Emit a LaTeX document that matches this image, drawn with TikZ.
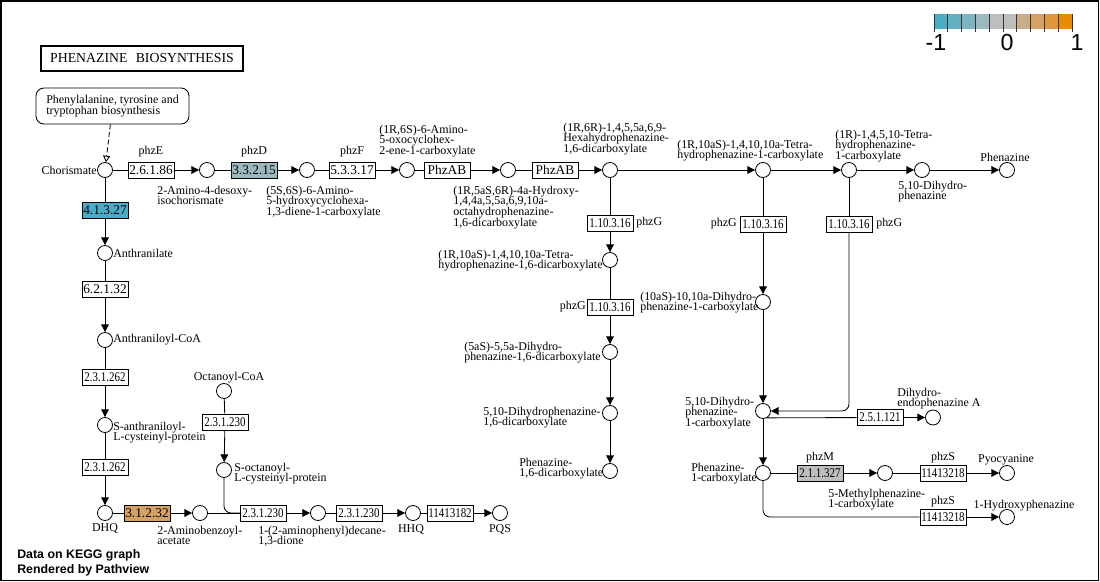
\documentclass[tikz,border=0pt]{standalone}
\usepackage{fontspec}
\setmainfont{Liberation Serif}
\setsansfont{Liberation Sans}
\usepackage{graphicx}
\usetikzlibrary{arrows.meta}

% expression colours (blue = -1, grey = 0, orange = +1)
\definecolor{lg1}{HTML}{4AACC6}
\definecolor{lg2}{HTML}{63B0C3}
\definecolor{lg3}{HTML}{7DB4C1}
\definecolor{lg4}{HTML}{9DB9C0}
\definecolor{lg5}{HTML}{BEBEBE}
\definecolor{lg6}{HTML}{BEBEBE}
\definecolor{lg7}{HTML}{C9AD8A}
\definecolor{lg8}{HTML}{D5A263}
\definecolor{lg9}{HTML}{E0973A}
\definecolor{lg10}{HTML}{E88B00}

\newcommand{\nar}[1]{\scalebox{0.82}[1]{#1}}
\lineskiplimit=-100pt

\begin{document}
\begin{tikzpicture}[
    x=0.025cm, y=-0.025cm,
    >={Triangle[length=5.5pt,width=5.5pt]},
    font=\fontsize{8.5}{7.6}\selectfont,
    % compounds, enzymes, labels and connectors
    cpd/.style={circle, draw, line width=0.6pt, fill=white, minimum size=0.375cm, inner sep=0pt},
    enz/.style={draw, line width=0.6pt, fill=white, minimum width=1.15cm, minimum height=0.4cm, inner sep=0pt, font=\fontsize{9.5}{9.5}\selectfont},
    lbl/.style={inner sep=0pt, align=left, anchor=north west},
    gene/.style={inner sep=0pt},
    link/.style={line width=0.6pt},
    flow/.style={->, line width=0.6pt}
  ]

  \useasboundingbox (0,0) rectangle (1100,582);
  \draw[line width=1pt] (1,1) rectangle (1098.5,580.5);

  % ---------------------------------------------------------
  % TITLE, LEGEND, NOTE
  % ---------------------------------------------------------
  \node[draw, line width=1.4pt, minimum width=5.05cm, minimum height=0.625cm, font=\fontsize{9.8}{10}\selectfont] (title) at (142,58.5) {PHENAZINE\hspace{0.6em}BIOSYNTHESIS};

  \foreach \col [count=\i from 0] in {lg1,lg2,lg3,lg4,lg5,lg6,lg7,lg8,lg9,lg10}
    \fill[\col] (934+\i*13.8,14) rectangle ++(13.8,15);
  \foreach \i in {0,...,10}
    \draw[line width=0.6pt, black!80] (934+\i*13.8,14) -- ++(0,18);
  \node[font={\fontsize{16.5}{18}\sffamily}] (leg_lo) at (936,43) {-1};
  \node[font={\fontsize{16.5}{18}\sffamily}] (leg_mid) at (1007,43) {0};
  \node[font={\fontsize{16.5}{18}\sffamily}] (leg_hi) at (1077,43) {1};

  \node[anchor=west, inner sep=0pt, font={\fontsize{8.8}{10}\sffamily\bfseries}] (note1) at (17,555) {Data on KEGG graph};
  \node[anchor=west, inner sep=0pt, font={\fontsize{8.8}{10}\sffamily\bfseries}] (note2) at (17,570) {Rendered by Pathview};

  % ---------------------------------------------------------
  % TOP ROW (Y = 170)
  % ---------------------------------------------------------
  \node[draw, rounded corners=0.2cm, line width=0.6pt, minimum width=3.825cm, minimum height=0.9cm, align=left, inner sep=0pt] (b_phe) at (112.5,106) {Phenylalanine, tyrosine and\\tryptophan biosynthesis};

  \node[cpd] (c_chor) at (105,170) {};
  \node[cpd] (c_adic) at (207,170) {};
  \node[cpd] (c_ahcd) at (307,170) {};
  \node[cpd] (c_aocc) at (407,170) {};
  \node[cpd] (c_hocd) at (508,170) {};
  \node[cpd] (c_hhpd) at (610,170) {};
  \node[cpd] (c_thpc) at (763,170) {};
  \node[cpd] (c_ttpc) at (849,170) {};
  \node[cpd] (c_dhp) at (922,170) {};
  \node[cpd] (c_phz) at (1007,170) {};

  \node[enz] (e_26186) at (151,170) {2.6.1.86};
  \node[enz, fill=lg4] (e_33215) at (254,170) {3.3.2.15};
  \node[enz] (e_53317) at (352,170) {5.3.3.17};
  \node[enz] (e_phzab1) at (447,170) {PhzAB};
  \node[enz] (e_phzab2) at (555,170) {PhzAB};

  \node[gene] (g_phze) at (151,152) {phzE};
  \node[gene] (g_phzd) at (254,152) {phzD};
  \node[gene] (g_phzf) at (352,152) {phzF};

  \node[anchor=east, inner sep=0pt] (l_chor) at (97,170) {Chorismate};
  \node[lbl] (l_adic) at (157,185.5) {2-Amino-4-desoxy-\\isochorismate};
  \node[lbl] (l_ahcd) at (266,185.5) {(5S,6S)-6-Amino-\\5-hydroxycyclohexa-\\1,3-diene-1-carboxylate};
  \node[lbl] (l_aocc) at (379,124.5) {(1R,6S)-6-Amino-\\5-oxocyclohex-\\2-ene-1-carboxylate};
  \node[lbl] (l_hocd) at (453,185.5) {(1R,5aS,6R)-4a-Hydroxy-\\1,4,4a,5,5a,6,9,10a-\\octahydrophenazine-\\1,6-dicarboxylate};
  \node[lbl] (l_hhpd) at (563,122.5) {(1R,6R)-1,4,5,5a,6,9-\\Hexahydrophenazine-\\1,6-dicarboxylate};
  \node[lbl] (l_thpc) at (677,139.5) {(1R,10aS)-1,4,10,10a-Tetra-\\hydrophenazine-1-carboxylate};
  \node[lbl] (l_ttpc) at (835,129.5) {(1R)-1,4,5,10-Tetra-\\hydrophenazine-\\1-carboxylate};
  \node[lbl] (l_dhp) at (898,180.5) {5,10-Dihydro-\\phenazine};
  \node[inner sep=0pt] (l_phz) at (1005,157) {Phenazine};

  \draw[dashed, dash pattern=on 3.5pt off 2pt, line width=0.6pt, -{Triangle[open,length=4.5pt,width=5pt]}] (b_phe) -- (c_chor);
  \draw[link] (c_chor) -- (e_26186);
  \draw[flow] (e_26186) -- (c_adic);
  \draw[link] (c_adic) -- (e_33215);
  \draw[flow] (e_33215) -- (c_ahcd);
  \draw[link] (c_ahcd) -- (e_53317);
  \draw[flow] (e_53317) -- (c_aocc);
  \draw[link] (c_aocc) -- (e_phzab1);
  \draw[flow] (e_phzab1) -- (c_hocd);
  \draw[link] (c_hocd) -- (e_phzab2);
  \draw[flow] (e_phzab2) -- (c_hhpd);
  \draw[flow] (c_hhpd) -- (c_thpc);
  \draw[flow] (c_thpc) -- (c_ttpc);
  \draw[flow] (c_ttpc) -- (c_dhp);
  \draw[flow] (c_dhp) -- (c_phz);

  % ---------------------------------------------------------
  % LEFT COLUMN AND PQS BRANCH (X = 105, Y = 513)
  % ---------------------------------------------------------
  \node[cpd] (c_anth) at (105,253) {};
  \node[cpd] (c_acoa) at (105,340) {};
  \node[cpd] (c_sac) at (105,425) {};
  \node[cpd] (c_dhq) at (105,513) {};
  \node[cpd] (c_aba) at (200,513) {};
  \node[cpd] (c_octa) at (224,391) {};
  \node[cpd] (c_soc) at (224,470) {};
  \node[cpd] (c_apd) at (318,513) {};
  \node[cpd] (c_hhq) at (413,513) {};
  \node[cpd] (c_pqs) at (500,513) {};

  \node[enz, fill=lg1] (e_41327) at (105,210) {4.1.3.27};
  \node[enz] (e_62132) at (105,289) {6.2.1.32};
  \node[enz] (e_231262a) at (105,377) {\nar{2.3.1.262}};
  \node[enz] (e_231262b) at (105,467) {\nar{2.3.1.262}};
  \node[enz, fill=lg8] (e_31232) at (147,513) {3.1.2.32};
  \node[enz] (e_231230a) at (225,422) {\nar{2.3.1.230}};
  \node[enz] (e_231230b) at (263,513) {\nar{2.3.1.230}};
  \node[enz] (e_231230c) at (359,513) {\nar{2.3.1.230}};
  \node[enz] (e_11413182) at (450,513) {\nar{11413182}};

  \node[anchor=west, inner sep=0pt] (l_anth) at (113,253) {Anthranilate};
  \node[anchor=west, inner sep=0pt] (l_acoa) at (113,340) {Anthraniloyl-CoA};
  \node[lbl] (l_sac) at (113,421.5) {S-anthraniloyl-\\L-cysteinyl-protein};
  \node[inner sep=0pt] (l_dhq) at (105,529) {DHQ};
  \node[lbl] (l_aba) at (157,525.5) {2-Aminobenzoyl-\\acetate};
  \node[inner sep=0pt] (l_octa) at (229,378) {Octanoyl-CoA};
  \node[lbl] (l_soc) at (234,462.5) {S-octanoyl-\\L-cysteinyl-protein};
  \node[lbl] (l_apd) at (258,525.5) {1-(2-aminophenyl)decane-\\1,3-dione};
  \node[inner sep=0pt] (l_hhq) at (411,530) {HHQ};
  \node[inner sep=0pt] (l_pqs) at (500,530) {PQS};

  \draw[link] (c_chor) -- (e_41327);
  \draw[flow] (e_41327) -- (c_anth);
  \draw[link] (c_anth) -- (e_62132);
  \draw[flow] (e_62132) -- (c_acoa);
  \draw[link] (c_acoa) -- (e_231262a);
  \draw[flow] (e_231262a) -- (c_sac);
  \draw[link] (c_sac) -- (e_231262b);
  \draw[flow] (e_231262b) -- (c_dhq);
  \draw[link] (c_dhq) -- (e_31232);
  \draw[flow] (e_31232) -- (c_aba);
  \draw[link] (c_aba) -- (e_231230b);
  \draw[flow] (e_231230b) -- (c_apd);
  \draw[link] (c_apd) -- (e_231230c);
  \draw[flow] (e_231230c) -- (c_hhq);
  \draw[link] (c_hhq) -- (e_11413182);
  \draw[flow] (e_11413182) -- (c_pqs);
  \draw[link] (c_octa) -- (e_231230a);
  \draw[flow] (e_231230a) -- (c_soc);
  \draw[link, rounded corners=5pt] (c_soc) |- (e_231230b.west);

  % ---------------------------------------------------------
  % PHZG COLUMNS (X = 610, 763, 849)
  % ---------------------------------------------------------
  \node[cpd] (c_thpd) at (610,260) {};
  \node[cpd] (c_dhpd) at (610,352) {};
  \node[cpd] (c_d10) at (610,413) {};
  \node[cpd] (c_p16) at (610,471) {};
  \node[cpd] (c_dhpc) at (763,302) {};
  \node[cpd] (c_d1c) at (763,411) {};

  \node[enz] (e_phzg1) at (610,223) {\nar{1.10.3.16}};
  \node[enz] (e_phzg2) at (610,307) {\nar{1.10.3.16}};
  \node[enz] (e_phzg3) at (763,224) {\nar{1.10.3.16}};
  \node[enz] (e_phzg4) at (849,224) {\nar{1.10.3.16}};

  \node[gene, anchor=west] (g_phzg1) at (636,223) {phzG};
  \node[gene, anchor=east] (g_phzg2) at (586,307) {phzG};
  \node[gene, anchor=east] (g_phzg3) at (737,224) {phzG};
  \node[gene, anchor=west] (g_phzg4) at (876,224) {phzG};

  \node[lbl] (l_thpd) at (438,249.5) {(1R,10aS)-1,4,10,10a-Tetra-\\hydrophenazine-1,6-dicarboxylate};
  \node[lbl] (l_dhpd) at (464,341.5) {(5aS)-5,5a-Dihydro-\\phenazine-1,6-dicarboxylate};
  \node[lbl] (l_d10) at (483,406.5) {5,10-Dihydrophenazine-\\1,6-dicarboxylate};
  \node[lbl] (l_p16) at (519,457.5) {Phenazine-\\1,6-dicarboxylate};
  \node[lbl] (l_dhpc) at (640,291.5) {(10aS)-10,10a-Dihydro-\\phenazine-1-carboxylate};
  \node[lbl] (l_d1c) at (685,396.5) {5,10-Dihydro-\\phenazine-\\1-carboxylate};

  \draw[link] (c_hhpd) -- (e_phzg1);
  \draw[flow] (e_phzg1) -- (c_thpd);
  \draw[link] (c_thpd) -- (e_phzg2);
  \draw[flow] (e_phzg2) -- (c_dhpd);
  \draw[flow] (c_dhpd) -- (c_d10);
  \draw[flow] (c_d10) -- (c_p16);
  \draw[link] (c_thpc) -- (e_phzg3);
  \draw[flow] (e_phzg3) -- (c_dhpc);
  \draw[flow] (c_dhpc) -- (c_d1c);
  \draw[link] (c_ttpc) -- (e_phzg4);
  \draw[flow, rounded corners=5pt] (e_phzg4) |- (c_d1c);

  % ---------------------------------------------------------
  % RIGHT BRANCHES (PYOCYANINE, 1-HYDROXYPHENAZINE, ENDOPHENAZINE)
  % ---------------------------------------------------------
  \node[cpd] (c_dea) at (933,417.5) {};
  \node[cpd] (c_p1c) at (763,473) {};
  \node[cpd] (c_m1c) at (885,473) {};
  \node[cpd] (c_pyo) at (1007,473) {};
  \node[cpd] (c_ohp) at (1007,517) {};

  \node[enz] (e_251121) at (880,417.5) {\nar{2.5.1.121}};
  \node[enz, fill=lg5] (e_211327) at (820,473) {\nar{2.1.1.327}};
  \node[enz] (e_phzs1) at (943,473) {\nar{11413218}};
  \node[enz] (e_phzs2) at (943,517) {\nar{11413218}};

  \node[gene] (g_phzm) at (820,458) {phzM};
  \node[gene] (g_phzs1) at (943,458) {phzS};
  \node[gene] (g_phzs2) at (943,502) {phzS};

  \node[lbl] (l_dea) at (897,387.5) {Dihydro-\\endophenazine A};
  \node[lbl] (l_p1c) at (691,462.5) {Phenazine-\\1-carboxylate};
  \node[lbl] (l_m1c) at (828,488.5) {5-Methylphenazine-\\1-carboxylate};
  \node[inner sep=0pt] (l_pyo) at (1006,460) {Pyocyanine};
  \node[inner sep=0pt] (l_ohp) at (1024,506) {1-Hydroxyphenazine};

  \draw[link] (c_d1c.-60) -- (e_251121);
  \draw[flow] (e_251121) -- (c_dea);
  \draw[flow] (c_d1c) -- (c_p1c);
  \draw[link] (c_p1c) -- (e_211327);
  \draw[flow] (e_211327) -- (c_m1c);
  \draw[link] (c_m1c) -- (e_phzs1);
  \draw[flow] (e_phzs1) -- (c_pyo);
  \draw[link, rounded corners=5pt] (c_p1c) |- (e_phzs2);
  \draw[flow] (e_phzs2) -- (c_ohp);

\end{tikzpicture}
\end{document}
